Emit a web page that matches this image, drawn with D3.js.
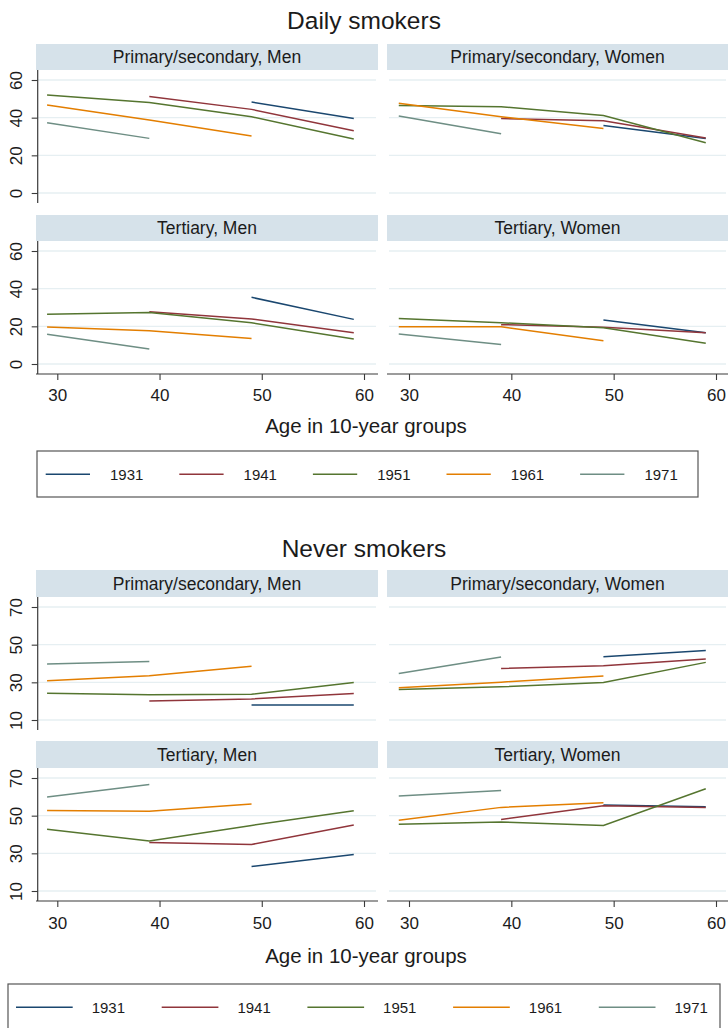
<!DOCTYPE html>
<html>
<head>
<meta charset="utf-8">
<script src="https://cdn.jsdelivr.net/npm/d3@7"></script>
<style>
  html, body { margin: 0; padding: 0; background: #fff; }
  svg { display: block; font-family: "Liberation Sans", Arial, sans-serif; }
</style>
</head>
<body>
<svg id="chart" width="728" height="1028"></svg>
<script>
// ---------- data ----------
const ages = [29, 39, 49, 59];
const cohorts = ["1931", "1941", "1951", "1961", "1971"];
const cohortColors = ["#1a476f", "#90353b", "#55752f", "#e37e00", "#6e8e84"];
const stripLabels = ["Primary/secondary, Men", "Primary/secondary, Women", "Tertiary, Men", "Tertiary, Women"];
const xTicks = [30, 40, 50, 60];
const dailyTicks = [0, 20, 40, 60];
const neverTicks = [10, 30, 50, 70];
const chartTitles = ["Daily smokers", "Never smokers"];
const xAxisTitle = "Age in 10-year groups";

// Daily smokers (%), rows = cohorts 1931..1971, cols = ages
const dailyPSMen = [
  [null, null, 48.3, 39.5],
  [null, 51.2, 44.4, 33.1],
  [52.0, 48.0, 40.5, 28.7],
  [46.7, 38.8, 30.3, null],
  [37.3, 29.0, null, null]
];
const dailyPSWomen = [
  [null, null, 35.9, 28.9],
  [null, 39.5, 38.4, 29.2],
  [46.4, 45.8, 41.1, 26.7],
  [47.6, 40.5, 34.2, null],
  [40.9, 31.5, null, null]
];
const dailyTerMen = [
  [null, null, 35.4, 23.7],
  [null, 27.8, 23.9, 16.6],
  [26.4, 27.3, 21.9, 13.3],
  [19.6, 17.7, 13.5, null],
  [15.8, 8.0, null, null]
];
const dailyTerWomen = [
  [null, null, 23.4, 16.6],
  [null, 20.9, 19.5, 16.6],
  [24.2, 21.9, 19.3, 11.0],
  [19.8, 19.8, 12.4, null],
  [15.9, 10.4, null, null]
];

// Never smokers (%)
const neverPSMen = [
  [null, null, 18.0, 18.0],
  [null, 20.1, 21.2, 24.1],
  [24.2, 23.4, 23.7, 29.9],
  [30.8, 33.5, 38.5, null],
  [39.7, 41.0, null, null]
];
const neverPSWomen = [
  [null, null, 43.6, 46.9],
  [null, 37.4, 38.8, 42.4],
  [26.2, 27.6, 29.9, 40.6],
  [27.1, 30.1, 33.3, null],
  [34.7, 43.5, null, null]
];
const neverTerMen = [
  [null, null, 23.0, 29.4],
  [null, 35.7, 34.7, 45.1],
  [42.8, 36.5, 44.8, 52.6],
  [52.8, 52.4, 56.2, null],
  [59.9, 66.5, null, null]
];
const neverTerWomen = [
  [null, null, 55.6, 54.7],
  [null, 48.0, 55.3, 54.4],
  [45.5, 46.6, 44.8, 64.3],
  [47.6, 54.4, 56.9, null],
  [60.4, 63.3, null, null]
];

// ---------- layout ----------
const svg = d3.select("#chart");
const textColor = "#1b1b1b";
const stripFill = "#d6e2ea";
const gridColor = "#e6eff2";
const axisColor = "#3a3a3a";

const panelCols = [
  { x0: 36, x1: 378, r0: 57.3, r1: 364, yAxis: true },
  { x0: 387, x1: 728, r0: 409, r1: 716, yAxis: false }
];

const charts = [
  {
    title: chartTitles[0], titleY: 29, ticks: dailyTicks, dom: [0, 60],
    panels: [dailyPSMen, dailyPSWomen, dailyTerMen, dailyTerWomen],
    stripTops: [44, 215], stripH: 26, plotH: 133,
    tickLabelY: 401, axisTitleY: 432.7,
    legend: { x0: 37, y0: 451, x1: 698, y1: 497, rowY: 474.3, start: 45.7, len: 44.3, step: 133.6, textOff: 64.3 }
  },
  {
    title: chartTitles[1], titleY: 557, ticks: neverTicks, dom: [10, 70],
    panels: [neverPSMen, neverPSWomen, neverTerMen, neverTerWomen],
    stripTops: [570, 741], stripH: 27, plotH: 133,
    tickLabelY: 929, axisTitleY: 962.7,
    legend: { x0: 8, y0: 984, x1: 720, y1: 1040, rowY: 1007.3, start: 16, len: 56.7, step: 145.7, textOff: 75.7 }
  }
];

charts.forEach(ch => {
  // title
  svg.append("text")
    .attr("x", 364).attr("y", ch.titleY)
    .attr("text-anchor", "middle")
    .attr("font-size", 24.5)
    .attr("fill", textColor)
    .text(ch.title);

  ch.panels.forEach((data, pi) => {
    const row = Math.floor(pi / 2), col = pi % 2;
    const pc = panelCols[col];
    const stripTop = ch.stripTops[row];
    const plotTop = stripTop + ch.stripH;
    const plotBottom = plotTop + ch.plotH;

    const x = d3.scaleLinear().domain([30, 60]).range([pc.r0, pc.r1]);
    const y = d3.scaleLinear().domain(ch.dom).range([plotTop + 123, plotTop + 10]);

    const g = svg.append("g");

    // strip
    g.append("rect")
      .attr("x", pc.x0).attr("y", stripTop)
      .attr("width", pc.x1 - pc.x0).attr("height", ch.stripH)
      .attr("fill", stripFill);
    g.append("text")
      .attr("x", (pc.x0 + pc.x1) / 2).attr("y", stripTop + ch.stripH / 2)
      .attr("dy", "0.36em")
      .attr("text-anchor", "middle")
      .attr("font-size", 17.5)
      .attr("fill", textColor)
      .text(stripLabels[pi]);

    // gridlines
    g.append("g").selectAll("line")
      .data(ch.ticks).join("line")
      .attr("x1", pc.x0 + 2).attr("x2", pc.x1 - 2)
      .attr("y1", d => y(d)).attr("y2", d => y(d))
      .attr("stroke", gridColor).attr("stroke-width", 1.3);

    // y axis
    if (pc.yAxis) {
      const ax = g.append("g")
        .attr("transform", `translate(${pc.x0 + 1.7},0)`)
        .call(d3.axisLeft(y).tickValues(ch.ticks).tickSize(6).tickFormat(d3.format("d")));
      ax.select(".domain").remove();
      ax.selectAll(".tick line").attr("stroke", axisColor).attr("stroke-width", 1.1);
      ax.selectAll(".tick text")
        .attr("x", null).attr("dy", null).attr("y", 0)
        .attr("text-anchor", "middle")
        .attr("transform", "translate(-15.6,0) rotate(-90)")
        .attr("font-size", 17)
        .attr("font-family", "Liberation Sans, Arial, sans-serif")
        .attr("fill", textColor);
      g.append("line")
        .attr("x1", pc.x0 + 1.7).attr("x2", pc.x0 + 1.7)
        .attr("y1", plotTop).attr("y2", plotBottom)
        .attr("stroke", axisColor).attr("stroke-width", 1.2);
    }

    // x axis (bottom row only)
    if (row === 1) {
      const ax = g.append("g")
        .attr("transform", `translate(0,${plotBottom})`)
        .call(d3.axisBottom(x).tickValues(xTicks).tickSize(6).tickFormat(d3.format("d")));
      ax.select(".domain").remove();
      ax.selectAll(".tick line").attr("stroke", axisColor).attr("stroke-width", 1.1);
      ax.selectAll(".tick text")
        .attr("y", null).attr("dy", null)
        .attr("transform", `translate(0,${ch.tickLabelY - plotBottom})`)
        .attr("font-size", 17)
        .attr("font-family", "Liberation Sans, Arial, sans-serif")
        .attr("fill", textColor);
      g.append("line")
        .attr("x1", pc.x0).attr("x2", pc.x1)
        .attr("y1", plotBottom).attr("y2", plotBottom)
        .attr("stroke", axisColor).attr("stroke-width", 1.2);
    }

    // lines
    const line = d3.line()
      .defined(d => d[1] != null)
      .x(d => x(d[0]))
      .y(d => y(d[1]));
    data.forEach((vals, ci) => {
      g.append("path")
        .datum(ages.map((a, i) => [a, vals[i]]))
        .attr("fill", "none")
        .attr("stroke", cohortColors[ci])
        .attr("stroke-width", 1.5)
        .attr("d", line);
    });
  });

  // x-axis title
  svg.append("text")
    .attr("x", 366).attr("y", ch.axisTitleY)
    .attr("text-anchor", "middle")
    .attr("font-size", 20.5)
    .attr("fill", textColor)
    .text(xAxisTitle);

  // legend
  const L = ch.legend;
  svg.append("rect")
    .attr("x", L.x0).attr("y", L.y0)
    .attr("width", L.x1 - L.x0).attr("height", L.y1 - L.y0)
    .attr("fill", "#fff").attr("stroke", "#555").attr("stroke-width", 1.2);
  cohorts.forEach((c, i) => {
    const lx = L.start + i * L.step;
    svg.append("line")
      .attr("x1", lx).attr("x2", lx + L.len)
      .attr("y1", L.rowY).attr("y2", L.rowY)
      .attr("stroke", cohortColors[i]).attr("stroke-width", 1.5);
    svg.append("text")
      .attr("x", lx + L.textOff).attr("y", L.rowY)
      .attr("dy", "0.36em")
      .attr("font-size", 15)
      .attr("fill", textColor)
      .text(c);
  });
});
</script>
</body>
</html>
